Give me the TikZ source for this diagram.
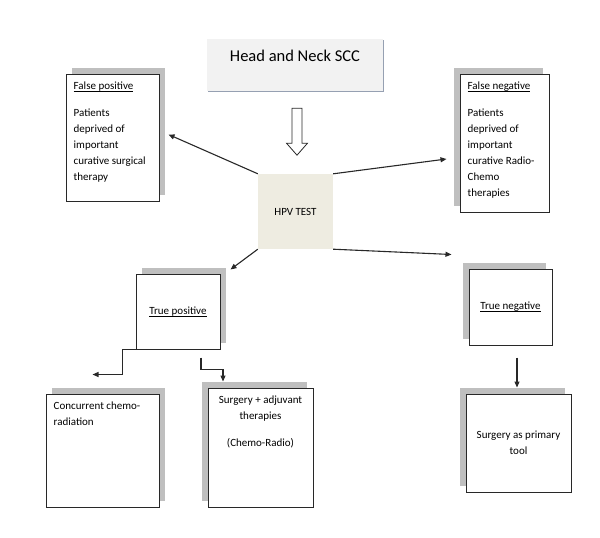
\documentclass[tikz,border=0pt]{standalone}
\usepackage{amsmath}
\usepackage{fontspec}
\setmainfont{Carlito}
\usetikzlibrary{arrows.meta,positioning,shadows,calc}
\definecolor{shade}{RGB}{191,191,191}
\definecolor{linen}{RGB}{238,236,225}
\definecolor{paper}{RGB}{242,242,242}
\definecolor{slate}{RGB}{150,160,178}
\definecolor{ink}{RGB}{40,40,40}
\newcommand{\uln}[1]{\underline{\smash[b]{#1}}}

\begin{document}
\begin{tikzpicture}[x=1pt,y=-1pt,
    card/.style={draw=ink,line width=1pt,fill=white,inner sep=0pt,
      font=\fontsize{11}{16}\selectfont,align=center},
    shadeR/.style={general shadow={fill=shade,shadow xshift=6pt,shadow yshift=6pt}},
    shadeL/.style={general shadow={fill=shade,shadow xshift=-6pt,shadow yshift=6pt}},
    txt/.style={font=\fontsize{11}{16}\selectfont,inner sep=0pt,align=left,anchor=north west},
    link/.style={-{Triangle[length=6pt,width=5pt]},line width=1.1pt,ink}]
  \useasboundingbox (0,0) rectangle (600,538);

  % top of the chart
  \node[fill=paper,general shadow={fill=slate,shadow xshift=1.2pt,shadow yshift=-1.2pt},
    minimum width=176pt,minimum height=52pt] (head) at (295,65) {};
  \node[font=\fontsize{16.5}{20}\selectfont,inner sep=0pt] (headtxt) at (295,56) {Head and Neck SCC};
  \coordinate (flow) at ([xshift=2pt,yshift=-17pt]head.south);
  \draw[ink,line width=0.8pt,fill=white] ([xshift=-5pt]flow) -- ++(0,35) -- ++(-5.5,0)
    -- ++(10.5,12) -- ++(10.5,-12) -- ++(-5.5,0) -- ++(0,-35) -- cycle;

  \node[fill=linen,minimum size=75pt,inner sep=0pt,font=\fontsize{11}{13}\selectfont] (hpv) at (295.5,211.5) {HPV TEST};

  % false results
  \node[card,shadeR,minimum width=93pt,minimum height=127pt] (fp) at (112.5,137.5) {};
  \node[txt] (fptxt) at ([xshift=8pt,yshift=-8pt]fp.north west)
    {\uln{False positive}\\[11pt]Patients\\deprived of\\important\\curative surgical\\therapy};
  \node[card,shadeL,minimum width=89pt,minimum height=138pt] (fn) at (504.5,143) {};
  \node[txt] (fntxt) at ([xshift=8pt,yshift=-8pt]fn.north west)
    {\uln{False negative}\\[11pt]Patients\\deprived of\\important\\curative Radio-\\Chemo\\therapies};

  % true results
  \node[card,shadeR,minimum width=84pt,minimum height=75pt] (tp) at (178,311.5) {\uln{True positive}};
  \node[card,shadeL,minimum width=83pt,minimum height=76pt] (tn) at (510.5,307) {\uln{True negative}};

  % treatments
  \node[card,shadeR,minimum width=113pt,minimum height=113pt] (cc) at (102.5,450.5) {};
  \node[txt] (cctxt) at ([xshift=8pt,yshift=-8pt]cc.north west) {Concurrent chemo-\\radiation};
  \node[card,shadeL,minimum width=105pt,minimum height=119pt] (sa) at (260.5,447.5) {};
  \node[txt,anchor=north,align=center] (satxt) at ([yshift=-8pt]sa.north)
    {Surgery + adjuvant\\therapies\\[11pt](Chemo-Radio)};
  \node[card,shadeL,minimum width=105pt,minimum height=98pt] (sp) at (518.5,443) {Surgery as primary\\tool};

  % connectors
  \draw[link] (hpv.north west) -- ([xshift=9pt,yshift=3pt]fp.east);
  \draw[link] (hpv.north east) -- ([xshift=-13pt,yshift=-16pt]fn.west);
  \draw[link] (hpv.south east) -- ([xshift=-17pt,yshift=14pt]tn.north west);
  \draw[link] (hpv.south west) -- ([xshift=10pt,yshift=4pt]tp.north east);
  \draw[link] (tp.south west) -- ++(-13,0) |- ([xshift=-10pt,yshift=19pt]cc.north);
  \draw[link] ([xshift=23pt,yshift=-8pt]tp.south) -- ++(0,12) -| ([xshift=-37.5pt,yshift=6pt]sa.north);
  \draw[link] ([xshift=6.5pt,yshift=-12pt]tn.south) -- ([xshift=-1.5pt,yshift=6pt]sp.north);
\end{tikzpicture}
\end{document}
